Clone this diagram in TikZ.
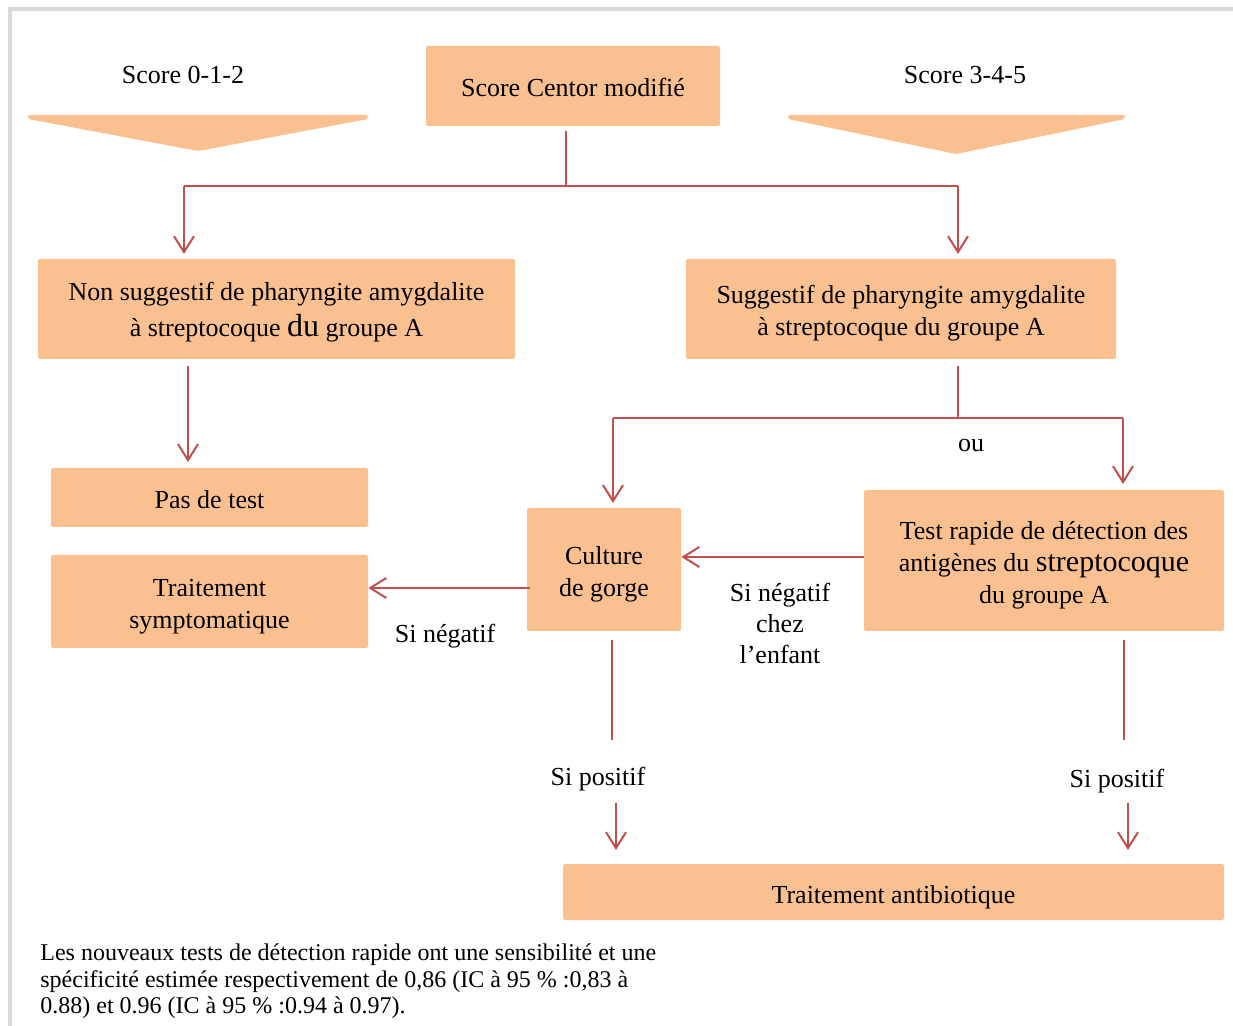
\documentclass[tikz,border=0pt]{standalone}
\usepackage{fontspec}
\setmainfont{Liberation Serif}
\usetikzlibrary{arrows.meta}
\definecolor{boxc}{RGB}{250,192,143}
\definecolor{linec}{RGB}{192,80,77}
\definecolor{framec}{RGB}{217,217,217}
\newcommand\tp[1]{\rule{0pt}{#1}}
\begin{document}
\begin{tikzpicture}[x=0.5pt,y=-0.5pt,
  box/.style={fill=boxc, rounded corners=1pt, inner sep=0pt, align=center, font=\fontsize{13}{16}\selectfont},
  lbl/.style={inner sep=0pt, align=center, font=\fontsize{13}{15.5}\selectfont},
  conn/.style={draw=linec, line width=1pt},
  arr/.style={conn, -{Straight Barb[length=8pt,width=10pt,line width=1pt]}}]
\useasboundingbox (0,0) rectangle (1233,1026);
% frame
\draw[framec, line width=2pt] (10,1040) -- (10,9) -- (1245,9);
% chevrons
\fill[boxc, rounded corners=1pt] (28,115) -- (368,115) -- (368,119) -- (198,151) -- (28,119) -- cycle;
\fill[boxc, rounded corners=1pt] (788,115) -- (1125,115) -- (1125,119) -- (956,154) -- (788,119) -- cycle;
\node[lbl] (s012) at (183,75) {Score 0-1-2};
\node[lbl] (s345) at (965,75) {Score 3-4-5};
% boxes
\node[box, minimum width=147pt, minimum height=40pt] (score) at (573,86) {\tp{10.5pt}Score Centor modifié};
\node[box, minimum width=238.5pt, minimum height=50pt, font=\fontsize{13}{18}\selectfont] (nons) at (276.5,309) {\tp{12.5pt}Non suggestif de pharyngite amygdalite\\à streptocoque {\fontsize{16}{16}\selectfont du} groupe A};
\node[box, minimum width=215pt, minimum height=50pt] (sug) at (901,309) {\tp{13.5pt}Suggestif de pharyngite amygdalite\\à streptocoque du groupe A};
\node[box, minimum width=158.5pt, minimum height=29.5pt] (pas) at (209.5,497.5) {\tp{11.5pt}Pas de test};
\node[box, minimum width=158.5pt, minimum height=46.5pt] (symp) at (209.5,601.5) {\tp{13.5pt}Traitement\\symptomatique};
\node[box, minimum width=77pt, minimum height=61.5pt] (cult) at (604,569.5) {\tp{14pt}Culture\\de gorge};
\node[box, minimum width=180pt, minimum height=70.5pt] (rap) at (1044,560.5) {\tp{13.5pt}Test rapide de détection des\\antigènes du {\fontsize{15}{16}\selectfont streptocoque}\\du groupe A};
\node[box, minimum width=330.5pt, minimum height=28pt] (anti) at (893.5,892) {\tp{14.5pt}Traitement antibiotique};
% labels
\node[lbl] (ou) at (971,446) {ou};
\node[lbl] (sneg1) at (780,623) {Si négatif\\chez\\l’enfant};
\node[lbl] (sneg2) at (445,636) {Si négatif};
\node[lbl] (spos1) at (598,779) {Si positif};
\node[lbl] (spos2) at (1117,781) {Si positif};
% coordinates
\coordinate (c1) at (566,131);
\coordinate (c2) at (566,186);
\coordinate (cl) at (184,186);
\coordinate (cr) at (958,186);
\coordinate (c3) at (188,366);
\coordinate (d1) at (958,366);
\coordinate (d2) at (958,418);
\coordinate (dl) at (613,418);
\coordinate (dr) at (1123,418);
\coordinate (e1) at (612,640);
\coordinate (e2) at (612,740);
\coordinate (e3) at (616,803);
\coordinate (f1) at (1124,640);
\coordinate (f2) at (1124,740);
\coordinate (f3) at (1128,803);
% connectors
\draw[conn] (c1) -- (c2);
\draw[conn] (cl) -- (cr);
\draw[arr] (cl) -- (184,254);
\draw[arr] (cr) -- (958,254);
\draw[arr] (c3) -- (188,462);
\draw[conn] (d1) -- (d2);
\draw[conn] (dl) -- (dr);
\draw[arr] (dl) -- (613,503);
\draw[arr] (dr) -- (1123,484);
\draw[arr] (rap.west |- 0,557) -- (cult.east |- 0,557);
\draw[arr] (530,588) -- (symp.east |- 0,588);
\draw[conn] (e1) -- (e2);
\draw[arr] (e3) -- (616,850);
\draw[conn] (f1) -- (f2);
\draw[arr] (f3) -- (1128,850);
% note
\node[anchor=north west, inner sep=0pt, align=left, font=\fontsize{12}{13.25}\selectfont] (note) at (40,943.5) {Les nouveaux tests de détection rapide ont une sensibilité et une\\spécificité estimée respectivement de 0,86 (IC à 95 \% :0,83 à\\0.88) et 0.96 (IC à 95 \% :0.94 à 0.97).};
\end{tikzpicture}
\end{document}
